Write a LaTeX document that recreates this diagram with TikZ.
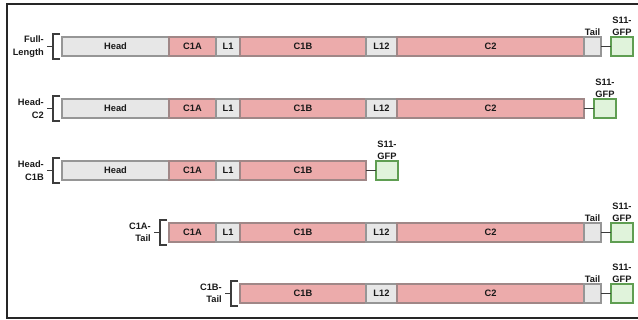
\documentclass[tikz,border=0pt]{standalone}
\usepackage{fontspec}
\setmainfont{Liberation Sans}
\definecolor{pinkfill}{RGB}{236,171,171}
\definecolor{pinkline}{RGB}{160,135,135}
\definecolor{greyfill}{RGB}{231,231,231}
\definecolor{greyline}{RGB}{150,150,150}
\definecolor{gfpfill}{RGB}{224,243,219}
\definecolor{gfpline}{RGB}{95,158,82}
\definecolor{txt}{RGB}{25,25,25}
\definecolor{brk}{RGB}{60,60,60}
\tikzset{
  seg/.style={draw, line width=1.1pt, anchor=west, minimum height=19pt, inner sep=0pt, outer sep=0pt, font=\bfseries\fontsize{9.3}{11}\selectfont, text=txt},
  greyseg/.style={seg, fill=greyfill, draw=greyline},
  pinkseg/.style={seg, fill=pinkfill, draw=pinkline},
  gfpbox/.style={draw=gfpline, fill=gfpfill, line width=1.1pt, anchor=west, minimum height=19pt, minimum width=22pt, inner sep=0pt, outer sep=0pt},
  toplabel/.style={anchor=south, align=center, inner sep=1.5pt, font=\bfseries\fontsize{9.3}{11.5}\selectfont, text=txt},
  rowlabel/.style={anchor=east, align=right, inner sep=1pt, font=\bfseries\fontsize{9.3}{12.5}\selectfont, text=txt},
  bracketline/.style={draw=brk, line width=1.2pt},
  linker/.style={draw=brk, line width=1.1pt}
}
\begin{document}
\begin{tikzpicture}[x=1pt,y=-1pt]
\useasboundingbox (0,0) rectangle (638,320);
% frame
\draw[line width=1.8pt, black!85] (640,4) -- (7,4) -- (7,318) -- (640,318);

% ---------- Row 1: Full-Length ----------
\def\yc{46.5}
\node[greyseg, minimum width=107pt] (a-head) at (62,\yc) {Head};
\node[pinkseg, minimum width=47pt] (a-c1a) at (169,\yc) {C1A};
\node[greyseg, minimum width=24pt] (a-l1) at (216,\yc) {L1};
\node[pinkseg, minimum width=126pt] (a-c1b) at (240,\yc) {C1B};
\node[greyseg, minimum width=31pt] (a-l12) at (366,\yc) {L12};
\node[pinkseg, minimum width=187pt] (a-c2) at (397,\yc) {C2};
\node[greyseg, minimum width=17pt] (a-tail) at (584,\yc) {};
\node[gfpbox] (a-gfp) at (611,\yc) {};
\draw[linker] (a-tail.east) -- (a-gfp.west);
\node[toplabel] (a-taill) at (a-tail.north) {Tail};
\node[toplabel] (a-gfpl) at (a-gfp.north) {S11-\\GFP};
\coordinate (a-bt) at (53,34);
\coordinate (a-bb) at (53,59);
\coordinate (a-bm) at (53,\yc);
\draw[bracketline] (60,34) -- (a-bt) -- (a-bb) -- (60,59);
\coordinate (a-tk) at (47,\yc);
\draw[bracketline] (a-tk) -- (a-bm);
\node[rowlabel] (a-lab) at (45,\yc) {Full-\\Length};

% ---------- Row 2: Head-C2 ----------
\def\yc{108.5}
\node[greyseg, minimum width=107pt] (b-head) at (62,\yc) {Head};
\node[pinkseg, minimum width=47pt] (b-c1a) at (169,\yc) {C1A};
\node[greyseg, minimum width=24pt] (b-l1) at (216,\yc) {L1};
\node[pinkseg, minimum width=126pt] (b-c1b) at (240,\yc) {C1B};
\node[greyseg, minimum width=31pt] (b-l12) at (366,\yc) {L12};
\node[pinkseg, minimum width=187pt] (b-c2) at (397,\yc) {C2};
\node[gfpbox] (b-gfp) at (594,\yc) {};
\draw[linker] (b-c2.east) -- (b-gfp.west);
\node[toplabel] (b-gfpl) at (b-gfp.north) {S11-\\GFP};
\coordinate (b-bt) at (53,96);
\coordinate (b-bb) at (53,121);
\coordinate (b-bm) at (53,\yc);
\draw[bracketline] (60,96) -- (b-bt) -- (b-bb) -- (60,121);
\coordinate (b-tk) at (47,\yc);
\draw[bracketline] (b-tk) -- (b-bm);
\node[rowlabel] (b-lab) at (45,\yc) {Head-\\C2};

% ---------- Row 3: Head-C1B ----------
\def\yc{170.5}
\node[greyseg, minimum width=107pt] (c-head) at (62,\yc) {Head};
\node[pinkseg, minimum width=47pt] (c-c1a) at (169,\yc) {C1A};
\node[greyseg, minimum width=24pt] (c-l1) at (216,\yc) {L1};
\node[pinkseg, minimum width=126pt] (c-c1b) at (240,\yc) {C1B};
\node[gfpbox] (c-gfp) at (376,\yc) {};
\draw[linker] (c-c1b.east) -- (c-gfp.west);
\node[toplabel] (c-gfpl) at (c-gfp.north) {S11-\\GFP};
\coordinate (c-bt) at (53,158);
\coordinate (c-bb) at (53,183);
\coordinate (c-bm) at (53,\yc);
\draw[bracketline] (60,158) -- (c-bt) -- (c-bb) -- (60,183);
\coordinate (c-tk) at (47,\yc);
\draw[bracketline] (c-tk) -- (c-bm);
\node[rowlabel] (c-lab) at (45,\yc) {Head-\\C1B};

% ---------- Row 4: C1A-Tail ----------
\def\yc{232.5}
\node[pinkseg, minimum width=47pt] (d-c1a) at (169,\yc) {C1A};
\node[greyseg, minimum width=24pt] (d-l1) at (216,\yc) {L1};
\node[pinkseg, minimum width=126pt] (d-c1b) at (240,\yc) {C1B};
\node[greyseg, minimum width=31pt] (d-l12) at (366,\yc) {L12};
\node[pinkseg, minimum width=187pt] (d-c2) at (397,\yc) {C2};
\node[greyseg, minimum width=17pt] (d-tail) at (584,\yc) {};
\node[gfpbox] (d-gfp) at (611,\yc) {};
\draw[linker] (d-tail.east) -- (d-gfp.west);
\node[toplabel] (d-taill) at (d-tail.north) {Tail};
\node[toplabel] (d-gfpl) at (d-gfp.north) {S11-\\GFP};
\coordinate (d-bt) at (160,220);
\coordinate (d-bb) at (160,245);
\coordinate (d-bm) at (160,\yc);
\draw[bracketline] (167,220) -- (d-bt) -- (d-bb) -- (167,245);
\coordinate (d-tk) at (154,\yc);
\draw[bracketline] (d-tk) -- (d-bm);
\node[rowlabel] (d-lab) at (152,\yc) {C1A-\\Tail};

% ---------- Row 5: C1B-Tail ----------
\def\yc{293.5}
\node[pinkseg, minimum width=126pt] (e-c1b) at (240,\yc) {C1B};
\node[greyseg, minimum width=31pt] (e-l12) at (366,\yc) {L12};
\node[pinkseg, minimum width=187pt] (e-c2) at (397,\yc) {C2};
\node[greyseg, minimum width=17pt] (e-tail) at (584,\yc) {};
\node[gfpbox] (e-gfp) at (611,\yc) {};
\draw[linker] (e-tail.east) -- (e-gfp.west);
\node[toplabel] (e-taill) at (e-tail.north) {Tail};
\node[toplabel] (e-gfpl) at (e-gfp.north) {S11-\\GFP};
\coordinate (e-bt) at (231,281);
\coordinate (e-bb) at (231,306);
\coordinate (e-bm) at (231,\yc);
\draw[bracketline] (238,281) -- (e-bt) -- (e-bb) -- (238,306);
\coordinate (e-tk) at (225,\yc);
\draw[bracketline] (e-tk) -- (e-bm);
\node[rowlabel] (e-lab) at (223,\yc) {C1B-\\Tail};
\end{tikzpicture}
\end{document}
